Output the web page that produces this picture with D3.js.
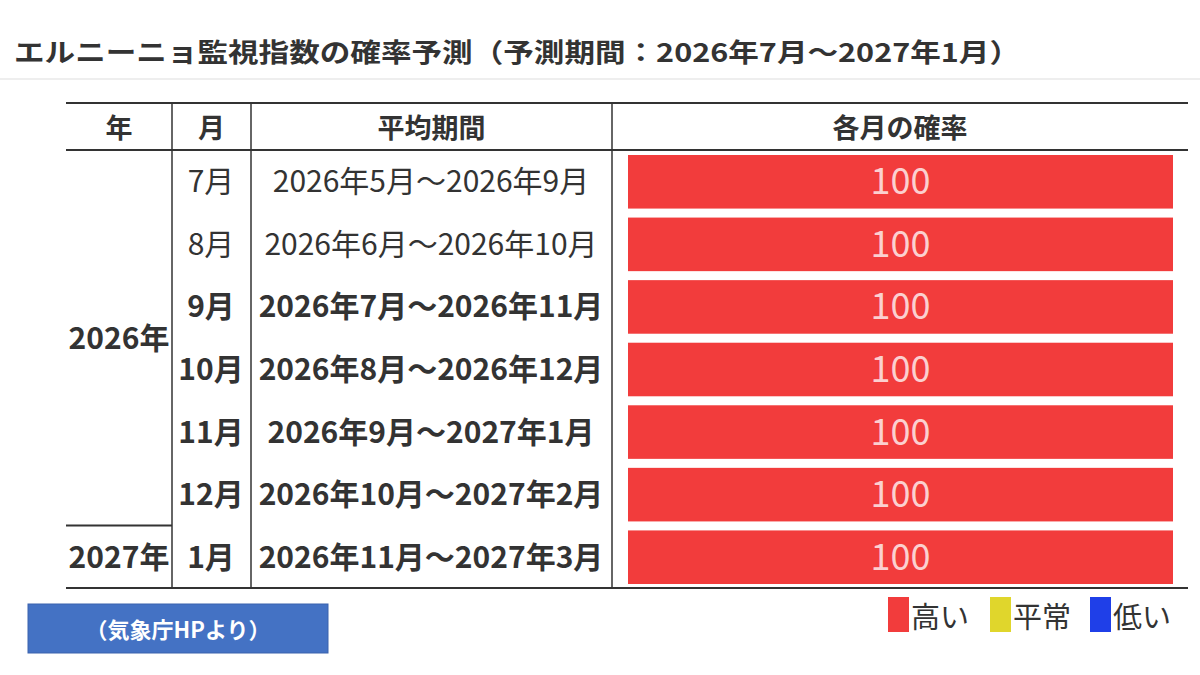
<!DOCTYPE html>
<html><head><meta charset="utf-8">
<script src="https://cdn.jsdelivr.net/npm/d3@7"></script>
<style>body{margin:0;background:#fff}text{font-family:"Noto Sans CJK JP",sans-serif}</style>
</head><body>
<svg id="c" width="1200" height="675"></svg>
<script>
var months = ['7月','8月','9月','10月','11月','12月','1月'];
var years = ['2026年','2026年','2026年','2026年','2026年','2026年','2027年'];
var periods = ['2026年5月～2026年9月','2026年6月～2026年10月','2026年7月～2026年11月',
  '2026年8月～2026年12月','2026年9月～2027年1月','2026年10月～2027年2月','2026年11月～2027年3月'];
var highProb = [100,100,100,100,100,100,100];
var boldRow = [false,false,true,true,true,true,true];
var legendItems = [{label:'高い',color:'#f23c3c'},{label:'平常',color:'#e0d62c'},{label:'低い',color:'#1f3fe8'}];

var svg = d3.select('#c');
var ink = '#333';

svg.append('text').attr('x',14).attr('y',62).attr('font-size',26).attr('font-weight',700)
  .attr('textLength',1006).attr('lengthAdjust','spacingAndGlyphs')
  .attr('fill','#333').text('エルニーニョ監視指数の確率予測（予測期間：2026年7月～2027年1月）');
svg.append('line').attr('x1',0).attr('x2',1200).attr('y1',79).attr('y2',79).attr('stroke','#ddd');

var y = d3.scaleBand().domain(d3.range(months.length)).range([150,588]);
var x = d3.scaleLinear().domain([0,100]).range([628,1173]);
var colX = [66,172,251,612,1188];

svg.append('line').attr('x1',66).attr('x2',1188).attr('y1',103).attr('y2',103).attr('stroke',ink).attr('stroke-width',2);
svg.append('line').attr('x1',66).attr('x2',1188).attr('y1',150).attr('y2',150).attr('stroke',ink).attr('stroke-width',2);
svg.append('line').attr('x1',66).attr('x2',1188).attr('y1',588).attr('y2',588).attr('stroke',ink).attr('stroke-width',2);
svg.append('line').attr('x1',66).attr('x2',172).attr('y1',y(6)).attr('y2',y(6)).attr('stroke',ink).attr('stroke-width',2);
[172,251,612].forEach(function(cx){
  svg.append('line').attr('x1',cx).attr('x2',cx).attr('y1',103).attr('y2',588).attr('stroke',ink).attr('stroke-width',1.5);
});

var heads = ['年','月','平均期間','各月の確率'];
heads.forEach(function(h,i){
  svg.append('text').attr('x',(colX[i]+colX[i+1])/2).attr('y',138).attr('text-anchor','middle')
    .attr('font-size',27).attr('font-weight',700).attr('fill','#333').text(h);
});

svg.append('text').attr('x',119).attr('y',(150+y(6))/2+11).attr('text-anchor','middle')
  .attr('font-size',30).attr('font-weight',700).attr('fill','#333').text(years[0]);
svg.append('text').attr('x',119).attr('y',y(6)+y.bandwidth()/2+11).attr('text-anchor','middle')
  .attr('font-size',30).attr('font-weight',700).attr('fill','#333').text(years[6]);

var rows = svg.selectAll('g.row').data(d3.range(months.length)).enter().append('g');
rows.append('text').attr('x',211).attr('y',function(i){return y(i)+y.bandwidth()/2+11;})
  .attr('text-anchor','middle').attr('font-size',30).attr('fill','#333')
  .attr('font-weight',function(i){return boldRow[i]?700:400;}).text(function(i){return months[i];});
rows.append('text').attr('x',431).attr('y',function(i){return y(i)+y.bandwidth()/2+11;})
  .attr('text-anchor','middle').attr('font-size',30).attr('fill','#333')
  .attr('font-weight',function(i){return boldRow[i]?700:400;}).text(function(i){return periods[i];});
rows.append('rect').attr('x',x(0)).attr('y',function(i){return y(i)+5;})
  .attr('width',function(i){return x(highProb[i])-x(0);}).attr('height',y.bandwidth()-9)
  .attr('fill','#f23c3c');
rows.append('text').attr('x',function(i){return (x(0)+x(highProb[i]))/2;})
  .attr('y',function(i){return y(i)+y.bandwidth()/2+13;}).attr('text-anchor','middle')
  .attr('font-family','"Liberation Sans",sans-serif').attr('font-size',36).attr('fill','#fbd0d0')
  .text(function(i){return highProb[i];});

var lx = [888,990,1090];
legendItems.forEach(function(d,i){
  svg.append('rect').attr('x',lx[i]).attr('y',597).attr('width',21).attr('height',35).attr('fill',d.color);
  svg.append('text').attr('x',lx[i]+23).attr('y',628).attr('font-size',29).attr('fill','#333').text(d.label);
});

svg.append('rect').attr('x',28).attr('y',604).attr('width',300).attr('height',49).attr('fill','#4472c4').attr('stroke','#3a62ad');
svg.append('text').attr('x',178).attr('y',638).attr('text-anchor','middle').attr('font-size',22)
  .attr('font-weight',700).attr('fill','#fff').text('（気象庁HPより）');
</script>
</body></html>
